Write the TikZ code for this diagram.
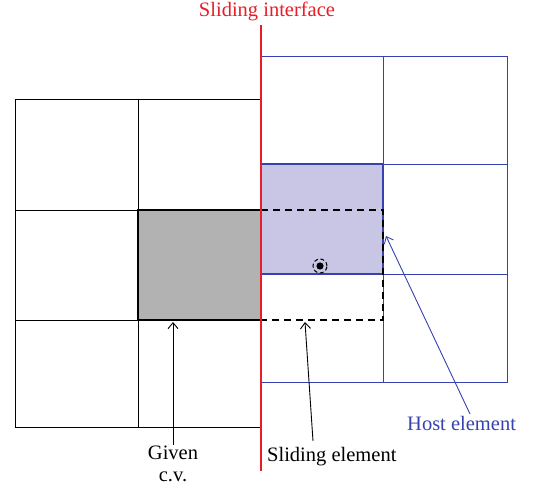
\documentclass[tikz,border=0pt]{standalone}
\usepackage{fontspec}
\setmainfont{Liberation Serif}
\usetikzlibrary{arrows.meta}
\definecolor{hostblue}{RGB}{55,65,175}
\definecolor{hostfill}{RGB}{200,198,228}
\definecolor{ifred}{RGB}{230,30,40}
\definecolor{cvgray}{RGB}{178,178,178}
\begin{document}
\begin{tikzpicture}[x=1pt,y=-1pt,
  gridline/.style={line width=0.9pt,black},
  hostline/.style={line width=0.8pt,hostblue},
  thickbox/.style={line width=2pt},
  dashbox/.style={line width=1.5pt,dash pattern=on 7pt off 5pt,black},
  lbl/.style={font=\fontsize{20.5}{22}\selectfont,inner sep=1pt},
  pointer/.style={line width=0.9pt,-{Straight Barb[length=6pt,width=10pt]}}]
\useasboundingbox (0,0) rectangle (533,486);
% host element (blue) fill
\fill[hostfill] (261,164) rectangle (383,274);
% given c.v.
\fill[cvgray] (138,210) rectangle (261,320);
% left black grid
\draw[gridline] (15,99) rectangle (261,427);
\draw[gridline] (138,99) -- (138,427);
\draw[gridline] (15,210) -- (261,210);
\draw[gridline] (15,320) -- (261,320);
\draw[thickbox] (138,210) rectangle (261,320);
% blue grid
\draw[hostline] (261,56) rectangle (507,382);
\draw[hostline] (383,56) -- (383,382);
\draw[hostline] (261,164) -- (507,164);
\draw[hostline] (261,274) -- (507,274);
\draw[thickbox,hostblue] (261,164) rectangle (383,274);
% sliding element dashed
\draw[dashbox] (261,210) -- (383,210) -- (383,320) -- (261,320);
% point with dashed circle
\fill (320,266) circle (3.6pt);
\draw[line width=1pt,dash pattern=on 4pt off 2.5pt] (320,266) circle (7pt);
% sliding interface
\draw[line width=2pt,ifred] (261,25) -- (261,471);
\node[lbl,text=ifred] (iflbl) at (267,11) {Sliding interface};
% labels
\node[lbl,anchor=base,inner sep=0pt] (cv) at (173,459) {Given};
\node[lbl,anchor=base,inner sep=0pt] (cv2) at (173,481) {c.v.};
\node[lbl,anchor=base west] (sl) at (266,461) {Sliding element};
\node[lbl,anchor=base west,text=hostblue] (host) at (406,430) {Host element};
\coordinate (cvtip) at (173,322);
\coordinate (sltip) at (305,322);
\coordinate (hosttip) at (386,236);
\coordinate (slstart) at (313,441);
\coordinate (hoststart) at (470,414);
\draw[pointer] (cv.north) -- (cvtip);
\draw[pointer] (slstart) -- (sltip);
\draw[pointer,hostblue] (hoststart) -- (hosttip);
\end{tikzpicture}
\end{document}
